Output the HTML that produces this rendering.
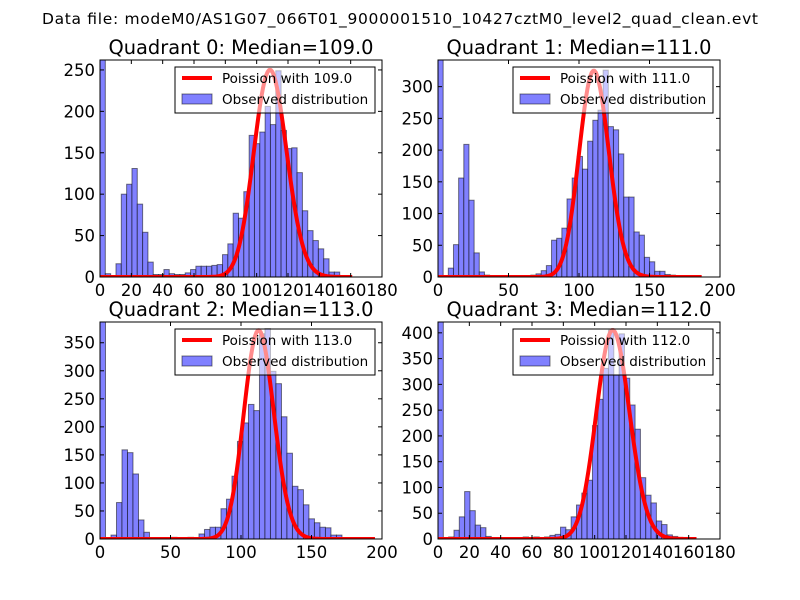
<!DOCTYPE html>
<html><head><meta charset="utf-8"><style>
html,body{margin:0;padding:0;background:#fff;}
svg{display:block;font-family:"DejaVu Sans","Liberation Sans",sans-serif;}
</style></head><body>
<svg id="fig" width="800" height="600" viewBox="0 0 800 600">
<rect x="0" y="0" width="800" height="600" fill="#fff"/>
<text x="400" y="24" font-size="15.5" text-anchor="middle" textLength="716">Data file: modeM0/AS1G07_066T01_9000001510_10427cztM0_level2_quad_clean.evt</text>
</svg>
<script>
// ---- data ----
const quadrantNames = ["Quadrant 0","Quadrant 1","Quadrant 2","Quadrant 3"];
const medians = [109.0, 111.0, 113.0, 112.0];
const binWidths = [3.4, 3.66, 3.9, 3.4];
const q0Counts = [2000,4,1,16,100,112,131,88,54,18,3,3,9,4,3,3,5,9,13,13,13,14,15,27,40,77,71,103,171,161,175,206,184,249,177,155,156,126,80,56,44,34,22,6,6,0,0,0,0,0];
const q1Counts = [2000,0,14,51,156,209,121,38,8,3,1,1,1,1,1,2,1,2,3,5,10,18,58,61,77,123,156,190,170,214,247,263,326,237,232,194,126,126,71,66,31,24,9,9,4,3,1,1,1,0];
const q2Counts = [2000,0,7,65,159,154,116,34,12,0,0,0,0,3,0,0,3,0,9,17,21,21,54,71,112,174,207,240,229,366,375,299,277,218,153,94,88,61,36,29,21,20,7,7,0,0,0,0,0,0];
const q3Counts = [2000,0,4,17,43,92,55,27,22,5,0,0,0,0,0,0,4,0,4,0,4,7,9,23,18,43,66,89,114,220,271,331,405,318,398,312,260,213,119,85,70,35,28,8,5,3,3,2,0,0];
const curvePeaks = [250, 325, 372, 405];
const curveMaxX = [161, 187, 195, 165];
const xMax = [180, 200, 200, 180];
const yMax = [262, 342, 387, 421];
const xTickLabels = [[0,20,40,60,80,100,120,140,160,180],[0,50,100,150,200],[0,50,100,150,200],[0,20,40,60,80,100,120,140,160,180]];
const yTickLabels = [[0,50,100,150,200,250],[0,50,100,150,200,250,300],[0,50,100,150,200,250,300,350],[0,50,100,150,200,250,300,350,400]];
const allCounts = [q0Counts,q1Counts,q2Counts,q3Counts];

// ---- layout ----
const NS = "http://www.w3.org/2000/svg";
const svg = document.getElementById('fig');
const rects = [{x:100,y:60,w:282,h:217},{x:438,y:60,w:282,h:217},{x:100,y:322,w:282,h:217},{x:438,y:322,w:282,h:217}];
function mk(tag, attrs, parent){const e=document.createElementNS(NS,tag);for(const k in attrs)e.setAttribute(k,attrs[k]);(parent||svg).appendChild(e);return e;}

function poissonShape(lam, kmax){
  // log pmf, normalised to peak 1
  const out=[];let logf=0;const vals=[];
  for(let k=0;k<=kmax;k++){ if(k>0) logf+=Math.log(k); vals.push(k*Math.log(lam)-lam-logf); }
  const m=Math.max(...vals);
  for(let k=0;k<=kmax;k++) out.push(Math.exp(vals[k]-m));
  return out;
}

for(let q=0;q<4;q++){
  const r=rects[q];
  const sx=v=>r.x+v/xMax[q]*r.w;
  const sy=v=>r.y+r.h-v/yMax[q]*r.h;
  const g=mk('g',{});
  
  
  const cp=mk('clipPath',{id:'clip'+q},g);
  mk('rect',{x:r.x,y:r.y,width:r.w,height:r.h},cp);
  const plot=mk('g',{'clip-path':'url(#clip'+q+')'},g);
  // bars
  const counts=allCounts[q];
  counts.forEach((c,i)=>{
    if(c<=0) return;
    const x0=sx(i*binWidths[q]), x1=sx((i+1)*binWidths[q]);
    const b=mk('rect',{x:x0,y:sy(c),width:x1-x0,height:sy(0)-sy(c),fill:'#8080ff',stroke:'rgba(0,0,0,0.5)','stroke-width':1},plot);
    
    
  });
  // poisson curve
  const shape=poissonShape(medians[q],curveMaxX[q]);
  let d='';
  shape.forEach((v,k)=>{d+=(k?'L':'M')+sx(k).toFixed(2)+','+sy(v*curvePeaks[q]).toFixed(2);});
  const line=mk('path',{d:d,fill:'none',stroke:'#ff0000','stroke-width':4,'stroke-linejoin':'round'},plot);
  
  
  // frame
  const fr=mk('rect',{x:r.x,y:r.y,width:r.w,height:r.h,fill:'none',stroke:'#000','stroke-width':1},g);
  
  
  // x ticks
  xTickLabels[q].forEach(t=>{
    const x=sx(t);
    mk('line',{x1:x,y1:r.y+r.h,x2:x,y2:r.y+r.h-4,stroke:'#000'},g);
    mk('line',{x1:x,y1:r.y,x2:x,y2:r.y+4,stroke:'#000'},g);
    const tx=mk('text',{x:x,y:r.y+r.h+19,'font-size':16.5,'text-anchor':'middle'},g);
    tx.textContent=t;
    
    
  });
  // y ticks
  yTickLabels[q].forEach(t=>{
    const y=sy(t);
    mk('line',{x1:r.x,y1:y,x2:r.x+4,y2:y,stroke:'#000'},g);
    mk('line',{x1:r.x+r.w,y1:y,x2:r.x+r.w-4,y2:y,stroke:'#000'},g);
    const tx=mk('text',{x:r.x-5,y:y+6,'font-size':16.5,'text-anchor':'end'},g);
    tx.textContent=t;
    
    
  });
  // title
  const ti=mk('text',{x:r.x+r.w/2,y:r.y-6,'font-size':19.4,'text-anchor':'middle'},g);
  ti.textContent=quadrantNames[q]+': Median='+medians[q].toFixed(1);
  
  
  // legend
  const lx=r.x+r.w-207, ly=r.y+7;
  const lg=mk('g',{},g);
  
  
  mk('rect',{x:lx,y:ly,width:200,height:46,fill:'rgba(255,255,255,0.55)',stroke:'#000','stroke-width':1},lg);
  mk('line',{x1:lx+7,y1:ly+11,x2:lx+37,y2:ly+11,stroke:'#ff0000','stroke-width':4},lg);
  const t1=mk('text',{x:lx+47,y:ly+16,'font-size':13.5},lg);
  t1.textContent='Poission with '+medians[q].toFixed(1);
  
  
  mk('rect',{x:lx+7,y:ly+27,width:30,height:10,fill:'#8080ff',stroke:'rgba(0,0,0,0.5)'},lg);
  const t2=mk('text',{x:lx+47,y:ly+37,'font-size':13.5},lg);
  t2.textContent='Observed distribution';
  
  
}
</script>
</body></html>
